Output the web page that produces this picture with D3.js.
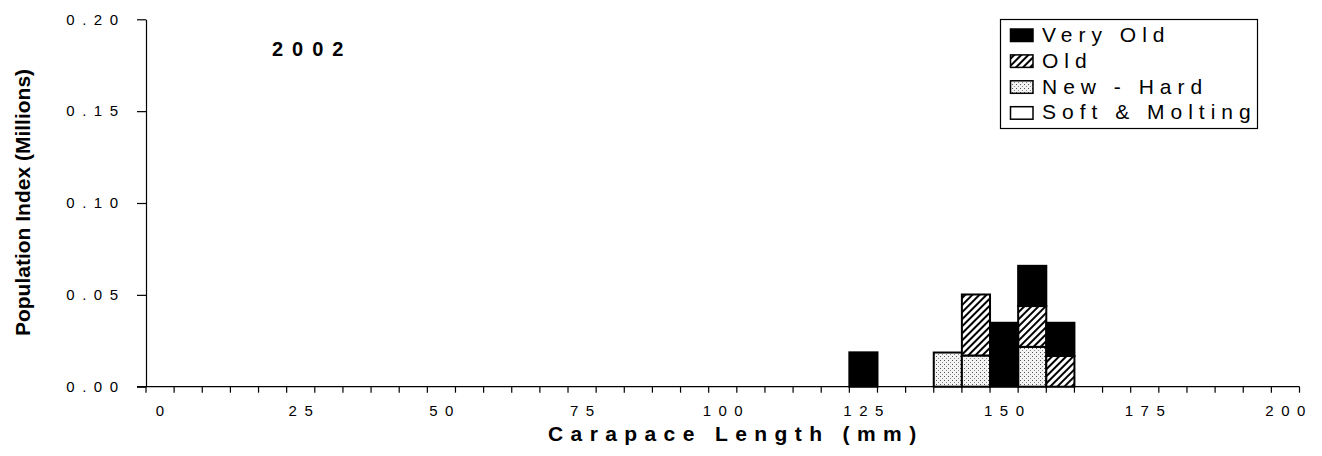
<!DOCTYPE html>
<html><head><meta charset="utf-8">
<script src="https://cdn.jsdelivr.net/npm/d3@7/dist/d3.min.js"></script>
<style>
body{margin:0;background:#fff}
text{font-family:"Liberation Sans",Arial,sans-serif;fill:#000}
</style>
</head><body>
<svg id="c" width="1322" height="456"></svg>
<script>
// ---- data ----
const sizeBins = ["0","5","10","15","20","25","30","35","40","45","50","55","60","65","70","75","80","85","90","95",
  "100","105","110","115","120","125","130","135","140","145","150","155","160","165","170","175","180","185","190","195","200"];
//                 0 5 10 15 20 25 30 35 40 45 50 55 60 65 70 75 80 85 90 95 100 105 110 115 120 125    130 135 140    145    150    155    160    165 170 175 180 185 190 195 200
const softMolting = [0,0,0,0,0,0,0,0,0,0,0,0,0,0,0,0,0,0,0,0,0,0,0,0,0,0,     0,0,0,     0,     0,     0,     0,     0,0,0,0,0,0,0,0];
const newHard     = [0,0,0,0,0,0,0,0,0,0,0,0,0,0,0,0,0,0,0,0,0,0,0,0,0,0,     0,0,0.0186,0.0170,0,     0.0217,0,     0,0,0,0,0,0,0,0];
const old         = [0,0,0,0,0,0,0,0,0,0,0,0,0,0,0,0,0,0,0,0,0,0,0,0,0,0,     0,0,0,     0.0332,0,     0.0222,0.0167,0,0,0,0,0,0,0,0];
const veryOld     = [0,0,0,0,0,0,0,0,0,0,0,0,0,0,0,0,0,0,0,0,0,0,0,0,0,0.0187,0,0,0,     0,     0.0348,0.0219,0.0181,0,0,0,0,0,0,0,0];
const seriesNames = ["Soft & Molting","New - Hard","Old","Very Old"];
const legendOrder = ["Very Old","Old","New - Hard","Soft & Molting"];
const xTickLabels = ["0","25","50","75","100","125","150","175","200"];
const yTickValues = [0,0.05,0.10,0.15,0.20];
const yTitle = "Population Index (Millions)";
const xTitle = "Carapace Length (mm)";
const yearLabel = "2002";

// ---- build ----
const svg = d3.select("#c");
const defs = svg.append("defs");
const hatch = defs.append("pattern").attr("id","hatch").attr("patternUnits","userSpaceOnUse")
  .attr("width",5).attr("height",5).attr("patternTransform","rotate(45)");
hatch.append("rect").attr("width",5).attr("height",5).attr("fill","#fff");
hatch.append("rect").attr("x",0).attr("y",0).attr("width",2).attr("height",5).attr("fill","#000");
const dots = defs.append("pattern").attr("id","dots").attr("patternUnits","userSpaceOnUse")
  .attr("width",4).attr("height",4);
dots.append("rect").attr("width",4).attr("height",4).attr("fill","#f4f4f4");
dots.append("rect").attr("x",0).attr("y",0).attr("width",1).attr("height",1).attr("fill","#555");
dots.append("rect").attr("x",2).attr("y",2).attr("width",1).attr("height",1).attr("fill","#888");

const fills = {"Soft & Molting":"#fff","New - Hard":"url(#dots)","Old":"url(#hatch)","Very Old":"#000"};

const x = d3.scaleBand().domain(sizeBins).range([146,1299.5]).padding(0);
const y = d3.scaleLinear().domain([0,0.2]).range([386.7,19.3]);

const table = sizeBins.map((b,i)=>({bin:b,"Soft & Molting":softMolting[i],"New - Hard":newHard[i],"Old":old[i],"Very Old":veryOld[i]}));
const stack = d3.stack().keys(seriesNames)(table);

const gBars = svg.append("g");
stack.forEach(layer=>{
  gBars.selectAll(null).data(layer.filter(d=>d[1]-d[0]>0)).join("rect")
    .attr("x",d=>x(d.data.bin)).attr("width",x.bandwidth())
    .attr("y",d=>y(d[1])).attr("height",d=>y(d[0])-y(d[1]))
    .attr("fill",fills[layer.key]).attr("stroke","#000").attr("stroke-width",2);
});

// y axis
const yAxis = svg.append("g").attr("transform","translate(146,0)")
  .call(d3.axisLeft(y).tickValues(yTickValues).tickSize(9).tickSizeOuter(0).tickPadding(11.5).tickFormat(d3.format(".2f")));
yAxis.select(".domain").attr("stroke","#000").attr("stroke-width",1.2);
yAxis.selectAll(".tick line").attr("stroke","#000").attr("stroke-width",1.2);
yAxis.selectAll("text").style("font-size","15px").style("letter-spacing","7.5px");

// x axis (labels centred on bins; tick marks on bin edges)
const xAxis = svg.append("g").attr("transform","translate(0,386.7)")
  .call(d3.axisBottom(x).tickValues(xTickLabels).tickSize(0).tickPadding(19));
xAxis.select(".domain").remove();
xAxis.selectAll("text").style("font-size","15px").style("letter-spacing","7.5px").attr("dx","3.7");
svg.append("line").attr("x1",137).attr("x2",x.range()[1]).attr("y1",y(0)).attr("y2",y(0))
  .attr("stroke","#000").attr("stroke-width",1.2);
svg.selectAll(".xt").data(sizeBins.map(b=>x(b)).concat([x.range()[1]])).join("line").attr("class","xt")
  .attr("x1",d=>d).attr("x2",d=>d).attr("y1",y(0)).attr("y2",y(0)+6)
  .attr("stroke","#000").attr("stroke-width",1.2);

// titles
svg.append("text").attr("transform","translate(30,202.5) rotate(-90)").attr("text-anchor","middle")
  .style("font-size","21px").style("font-weight","bold").text(yTitle);
svg.append("text").attr("x",548).attr("y",441).style("font-size","21px").style("font-weight","bold")
  .style("letter-spacing","7.4px").text(xTitle);
svg.append("text").attr("x",272).attr("y",56).style("font-size","20px").style("font-weight","bold")
  .style("letter-spacing","9px").text(yearLabel);

// legend
const lg = svg.append("g");
lg.append("rect").attr("x",1000.5).attr("y",19.5).attr("width",257).attr("height",109)
  .attr("fill","#fff").attr("stroke","#000").attr("stroke-width",1.2);
legendOrder.forEach((k,i)=>{
  const ty = 29 + i*25.9;
  lg.append("rect").attr("x",1010.5).attr("y",ty).attr("width",22.5).attr("height",12.5)
    .attr("fill",fills[k]).attr("stroke","#000").attr("stroke-width",1.5);
  lg.append("text").attr("x",1042).attr("y",ty+12.7).style("font-size","21px")
    .style("letter-spacing","6px").text(k);
});
</script>
</body></html>
